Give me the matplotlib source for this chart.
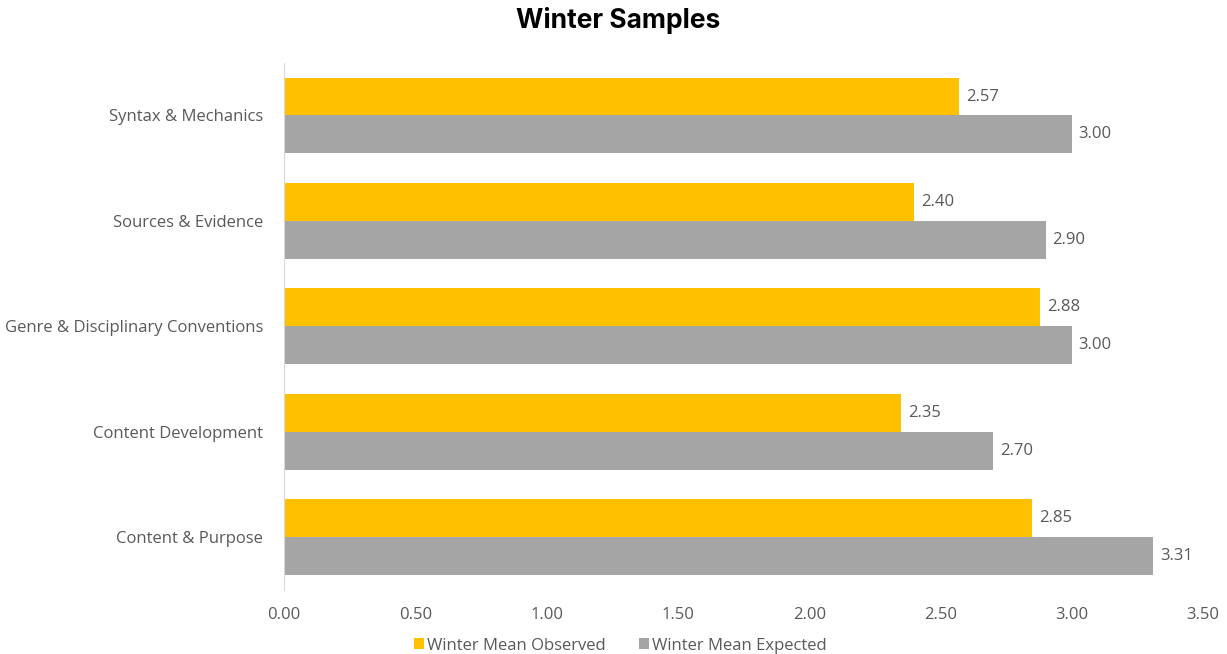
import matplotlib
matplotlib.use("Agg")
import matplotlib.pyplot as plt
import numpy as np

categories = ["Content & Purpose", "Content Development",
              "Genre & Disciplinary Conventions", "Sources & Evidence",
              "Syntax & Mechanics"]
observed = [2.85, 2.35, 2.88, 2.40, 2.57]
expected = [3.31, 2.70, 3.00, 2.90, 3.00]
xticks = [0.0, 0.5, 1.0, 1.5, 2.0, 2.5, 3.0, 3.5]

yellow = "#FFC000"
gray = "#A5A5A5"
txt = "#595959"

plt.rcParams['font.family'] = ['Open Sans', 'DejaVu Sans']

fig = plt.figure(figsize=(12.27, 6.54), dpi=100)
ax = fig.add_axes([0.2315, 0.098, 0.749, 0.806])

y = np.arange(len(categories))
h = 0.36
b1 = ax.barh(y + h / 2, observed, height=h, color=yellow, label="Winter Mean Observed")
b2 = ax.barh(y - h / 2, expected, height=h, color=gray, label="Winter Mean Expected")

for bars in (b1, b2):
    ax.bar_label(bars, labels=[f"{v:.2f}" for v in bars.datavalues],
                 padding=5, fontsize=12, color=txt)

ax.set_xlim(0, 3.5)
ax.set_ylim(-0.5, len(categories) - 0.5)
ax.set_xticks(xticks)
ax.set_xticklabels([f"{v:.2f}" for v in xticks])
ax.set_yticks(y)
ax.set_yticklabels(categories)
ax.tick_params(axis='both', length=0, labelsize=12, colors=txt)
ax.tick_params(axis='x', pad=12)
ax.tick_params(axis='y', pad=15)

for s in ("top", "right", "bottom"):
    ax.spines[s].set_visible(False)
ax.spines["left"].set_color("#D9D9D9")

fig.suptitle("Winter Samples", x=0.504, y=0.99, fontsize=19, fontweight="bold",
             family=["Inter", "DejaVu Sans"])

ax.legend(loc="upper center", bbox_to_anchor=(0.366, -0.062), ncol=2, frameon=False,
          fontsize=12, labelcolor=txt, handlelength=0.6, handleheight=0.6,
          handletextpad=0.2, columnspacing=2.0)

fig.savefig("out.png", dpi=100)
